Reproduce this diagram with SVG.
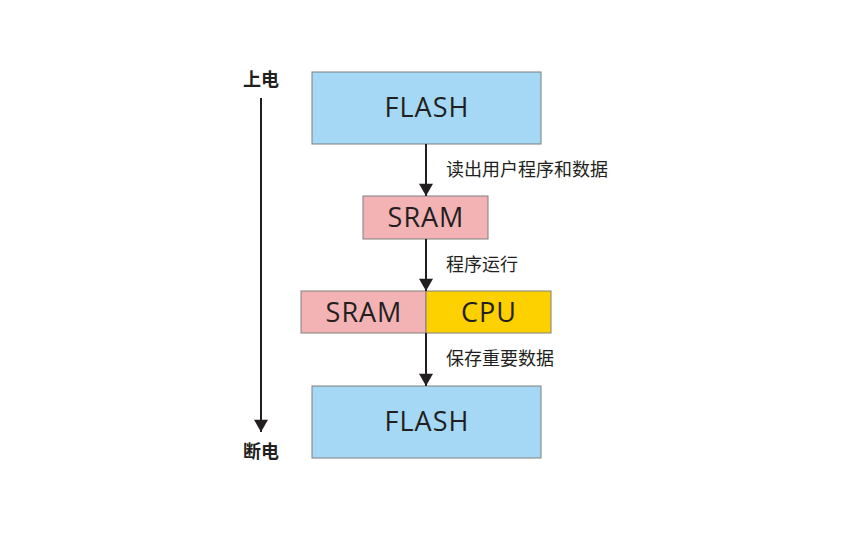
<svg xmlns="http://www.w3.org/2000/svg" width="850" height="534" viewBox="0 0 850 534">
<defs>
<style>
.box{stroke:#7f7f7f;stroke-width:1}
.flash{fill:#a4d8f4}
.sram{fill:#f3b2b4}
.cpu{fill:#fdd000}
.big{font-family:"Open Sans","Noto Sans",sans-serif;font-size:27px;letter-spacing:1px;fill:#231f20;text-anchor:middle}
.lbl{font-family:"Noto Sans CJK SC",sans-serif;font-size:18px;fill:#231f20}
.side{font-family:"Noto Sans CJK SC",sans-serif;font-size:18px;font-weight:bold;fill:#231f20;text-anchor:middle}
.line{stroke:#231f20;stroke-width:2;fill:none}
</style>
<marker id="ah" viewBox="0 0 14 16" refX="14" refY="8" markerWidth="16" markerHeight="14" markerUnits="userSpaceOnUse" orient="auto">
<path d="M0,0 L14,8 L0,16 z" fill="#231f20"/>
</marker>
</defs>
<rect width="850" height="534" fill="#ffffff"/>
<g id="flash-top"><rect class="box flash" x="312" y="72" width="229" height="72"/><text class="big" x="427" y="117">FLASH</text></g>
<g id="sram1"><rect class="box sram" x="363" y="196" width="125" height="43"/><text class="big" x="426" y="227">SRAM</text></g>
<g id="sram2"><rect class="box sram" x="301" y="291" width="125" height="42"/><text class="big" x="364" y="322">SRAM</text></g>
<g id="cpu"><rect class="box cpu" x="426" y="291" width="125" height="42"/><text class="big" x="489" y="322">CPU</text></g>
<g id="flash-bottom"><rect class="box flash" x="312" y="386" width="229" height="72"/><text class="big" x="427" y="431">FLASH</text></g>
<g id="side-labels">
<text class="side" x="261" y="86">上电</text>
<text class="side" x="261" y="458">断电</text>
</g>
<g id="connectors">
<path class="line" d="M426,144 V 196" marker-end="url(#ah)"/>
<path class="line" d="M426,239 V 291" marker-end="url(#ah)"/>
<path class="line" d="M426,333 V 386" marker-end="url(#ah)"/>
<path class="line" d="M261,98 V 432" marker-end="url(#ah)"/>
<text class="lbl" x="446" y="176">读出用户程序和数据</text>
<text class="lbl" x="446" y="271">程序运行</text>
<text class="lbl" x="446" y="365">保存重要数据</text>
</g>
</svg>
